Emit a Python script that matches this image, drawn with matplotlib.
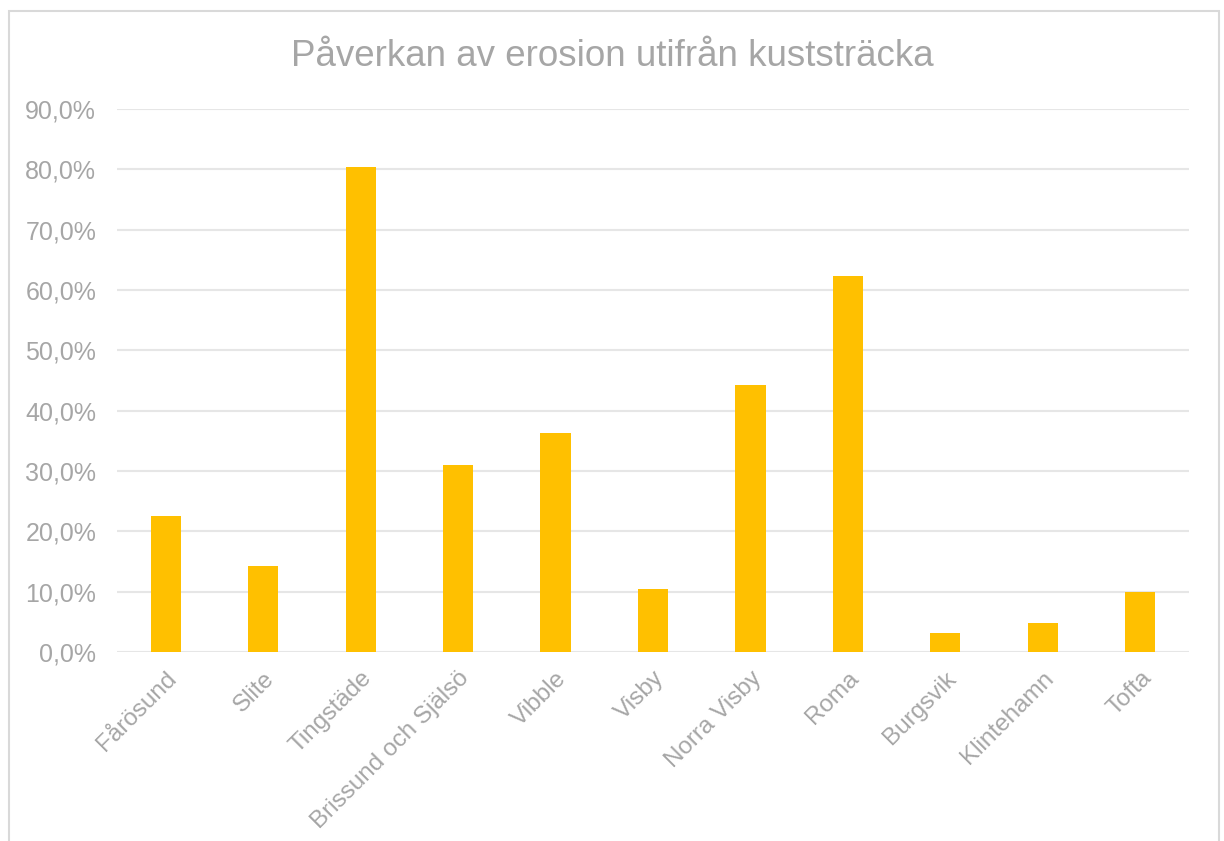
"""Stapeldiagram: påverkan av erosion per kuststräcka, sparas som out.png."""

import matplotlib

matplotlib.use("Agg")

import matplotlib.pyplot as plt
from matplotlib.patches import Rectangle
from matplotlib.ticker import FuncFormatter

stracka = [
    "Fårösund", "Slite", "Tingstäde", "Brissund och Själsö", "Vibble",
    "Visby", "Norra Visby", "Roma", "Burgsvik", "Klintehamn", "Tofta",
]
andel = [0.226, 0.143, 0.804, 0.310, 0.363, 0.105, 0.442, 0.623, 0.032, 0.048, 0.100]

TEXT = "#A6A6A6"
GRID = "#E6E6E6"
BAR = "#FFC000"

plt.rcParams["font.family"] = ["Liberation Sans", "DejaVu Sans"]

fig = plt.figure(figsize=(12.24, 8.41), dpi=100)
fig.patches.append(Rectangle((9 / 1224, -0.05), 1210 / 1224, 1 - 11 / 841 + 0.05,
                             transform=fig.transFigure, fill=False,
                             edgecolor="#D9D9D9", linewidth=1.5))

ax = fig.add_axes([117 / 1224, 189 / 841, 1072 / 1224, 543 / 841])
x = range(len(stracka))
ax.bar(x, andel, width=0.31, color=BAR, zorder=3)

ax.set_xlim(-0.5, len(stracka) - 0.5)
ax.set_ylim(0, 0.9)
ax.set_yticks([i / 10 for i in range(10)])
ax.yaxis.set_major_formatter(FuncFormatter(lambda v, _: f"{v * 100:.1f}%".replace(".", ",")))
ax.grid(axis="y", color=GRID, linewidth=1.5, zorder=0)
for side in ax.spines.values():
    side.set_visible(False)
ax.tick_params(length=0, colors=TEXT, labelsize=18)
ax.tick_params(axis="y", pad=15)

ax.set_xticks(list(x))
ax.set_xticklabels(stracka, rotation=45, ha="right", va="top",
                   rotation_mode="anchor", fontsize=17.5)
ax.tick_params(axis="x", pad=11)

fig.text(0.5, 1 - 56 / 841, "Påverkan av erosion utifrån kuststräcka",
         ha="center", va="center", color=TEXT, fontsize=26.5)

fig.savefig("out.png", dpi=100)
plt.close(fig)
